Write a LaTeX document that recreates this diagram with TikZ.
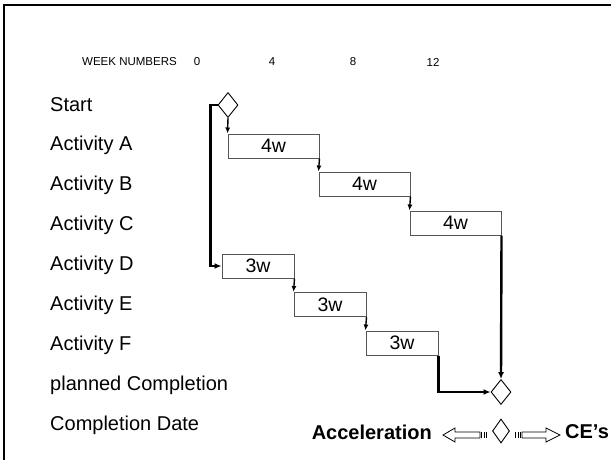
\documentclass[tikz,border=0pt]{standalone}
\usepackage{fontspec}
\setmainfont{Liberation Sans}
\usetikzlibrary{arrows.meta,shapes.geometric}
\definecolor{ink}{HTML}{000000}
\definecolor{bargray}{HTML}{555555}
\tikzset{
  rowlabel/.style={anchor=west,inner sep=0pt,font=\fontsize{20}{24}\selectfont},
  weeklabel/.style={inner sep=0pt,font=\fontsize{11.5}{14}\selectfont},
  bar/.style={draw=bargray,line width=1pt,minimum height=24pt,inner sep=0pt,
              font=\fontsize{19.5}{22}\selectfont},
  milestone/.style={diamond,draw=ink,line width=0.9pt,minimum width=20pt,
                    minimum height=25pt,inner sep=0pt},
  linkarr/.style={-{Latex[length=6pt,width=5pt]},line width=1.4pt,draw=ink},
  patharr/.style={-{Latex[length=7pt,width=6pt]},line width=2.4pt,draw=ink},
  hollowarr/.style={draw=ink,line width=0.8pt,fill=white},
  legendtext/.style={inner sep=0pt,font=\bfseries\fontsize{20}{24}\selectfont}
}

\begin{document}
\begin{tikzpicture}[x=1pt,y=-1pt]
    \path[use as bounding box] (0,0) rectangle (611,459);
    \draw[ink,line width=2.4pt] (4,470) -- (4,5) -- (620,5);

    % week scale
    \node[weeklabel] (weeks) at (129.5,62) {WEEK NUMBERS};
    \node[weeklabel] (wk0) at (197,62) {0};
    \node[weeklabel] (wk4) at (272,62) {4};
    \node[weeklabel] (wk8) at (353,62) {8};
    \node[weeklabel] (wk12) at (433,62) {12};

    % rows
    \node[rowlabel] (lstart) at (50,105) {Start};
    \node[rowlabel] (lA) at (50,145) {Activity A};
    \node[rowlabel] (lB) at (50,185) {Activity B};
    \node[rowlabel] (lC) at (50,225) {Activity C};
    \node[rowlabel] (lD) at (50,265) {Activity D};
    \node[rowlabel] (lE) at (50,305) {Activity E};
    \node[rowlabel] (lF) at (50,345) {Activity F};
    \node[rowlabel] (lplan) at (50,385) {planned Completion};
    \node[rowlabel] (ldate) at (50,425) {Completion Date};

    \node[milestone] (start) at (228,105) {};
    \node[milestone] (finish) at (501,392) {};

    \node[bar,minimum width=91pt] (barA) at (273.5,146) {4w};
    \node[bar,minimum width=91pt] (barB) at (364.5,184) {4w};
    \node[bar,minimum width=91pt] (barC) at (455.5,223) {4w};
    \node[bar,minimum width=72pt] (barD) at (258,266) {3w};
    \node[bar,minimum width=72pt] (barE) at (330,304.5) {3w};
    \node[bar,minimum width=72pt] (barF) at (402,343) {3w};

    \draw[linkarr] (start.south) -- (barA.north west);
    \draw[linkarr] (barA.south east) -- (barB.north west);
    \draw[linkarr] (barB.south east) -- (barC.north west);
    \draw[linkarr] (barD.south east) -- (barE.north west);
    \draw[linkarr] (barE.south east) -- (barF.north west);
    \draw[patharr] (start.west) -- ++(-7,0) |- (barD.west);
    \draw[patharr] (barC.south east) -- (finish.north);
    \draw[patharr] (barF.south east) |- (finish.west);

    % legend
    \node[legendtext,anchor=east] (accel) at (432,432) {Acceleration};
    \node[legendtext,anchor=west] (ces) at (565,432) {CE’s};
    \node[milestone,minimum width=17pt,minimum height=24pt] (legend) at (501,431) {};
    \draw[hollowarr] (443,435) -- (455,428) -- (455,432) -- (480,432)
      -- (480,438) -- (455,438) -- (455,442) -- cycle;
    \draw[hollowarr] (560,435) -- (546,428) -- (546,432) -- (522,432)
      -- (522,438) -- (546,438) -- (546,442) -- cycle;
    \foreach \x in {481.5,484,486.5,515.5,518,520.5}
      \draw[ink,line width=0.8pt] (\x,432) -- (\x,438);
\end{tikzpicture}
\end{document}
